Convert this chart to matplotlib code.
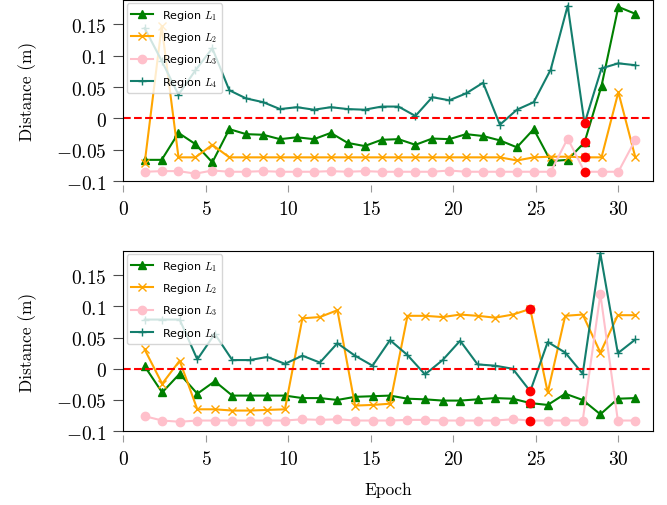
import matplotlib
matplotlib.use("Agg")
import matplotlib.pyplot as plt

plt.rcParams['mathtext.fontset'] = 'cm'

# epochs (x positions)
x_top = [1.29, 2.32, 3.34, 4.37, 5.39, 6.42, 7.44, 8.47, 9.49, 10.52,
         11.55, 12.57, 13.60, 14.62, 15.65, 16.67, 17.70, 18.72, 19.75, 20.77,
         21.80, 22.82, 23.85, 24.87, 25.90, 26.93, 27.95, 28.98, 30.00, 31.03]
x_bot = [1.29, 2.35, 3.41, 4.48, 5.54, 6.60, 7.66, 8.72, 9.79, 10.85,
         11.91, 12.97, 14.04, 15.10, 16.16, 17.22, 18.28, 19.35, 20.41, 21.47,
         22.53, 23.60, 24.66, 25.72, 26.78, 27.84, 28.91, 29.97, 31.03]

# top panel
l1_top = [-0.066, -0.066, -0.023, -0.041, -0.070, -0.017, -0.025, -0.026, -0.033, -0.030,
          -0.033, -0.023, -0.039, -0.044, -0.034, -0.033, -0.042, -0.032, -0.033, -0.025,
          -0.028, -0.035, -0.046, -0.017, -0.068, -0.066, -0.038, 0.052, 0.178, 0.167]
l2_top = [-0.071, 0.147, -0.062, -0.062, -0.042, -0.062, -0.062, -0.062, -0.062, -0.062,
          -0.062, -0.062, -0.062, -0.062, -0.062, -0.062, -0.062, -0.062, -0.062, -0.062,
          -0.062, -0.062, -0.067, -0.062, -0.061, -0.061, -0.062, -0.062, 0.042, -0.062]
l3_top = [-0.085, -0.084, -0.084, -0.088, -0.083, -0.085, -0.085, -0.084, -0.085, -0.085,
          -0.085, -0.084, -0.085, -0.084, -0.085, -0.085, -0.085, -0.085, -0.083, -0.085,
          -0.085, -0.085, -0.085, -0.085, -0.085, -0.032, -0.085, -0.085, -0.085, -0.034]
l4_top = [0.144, 0.092, 0.038, 0.077, 0.112, 0.045, 0.032, 0.026, 0.015, 0.018,
          0.014, 0.018, 0.015, 0.014, 0.019, 0.019, 0.004, 0.034, 0.029, 0.040,
          0.057, -0.010, 0.014, 0.026, 0.078, 0.180, -0.008, 0.080, 0.088, 0.085]
flag_top = 26

# bottom panel
l1_bot = [0.004, -0.038, -0.008, -0.040, -0.020, -0.043, -0.043, -0.043, -0.043, -0.047,
          -0.047, -0.050, -0.045, -0.044, -0.043, -0.048, -0.049, -0.051, -0.051, -0.049,
          -0.047, -0.048, -0.055, -0.058, -0.040, -0.050, -0.073, -0.048, -0.047]
l2_bot = [0.031, -0.024, 0.013, -0.065, -0.065, -0.067, -0.067, -0.066, -0.065, 0.081,
          0.083, 0.094, -0.059, -0.058, -0.056, 0.085, 0.085, 0.083, 0.087, 0.085,
          0.082, 0.087, 0.096, -0.038, 0.085, 0.087, 0.026, 0.086, 0.086]
l3_bot = [-0.076, -0.083, -0.085, -0.083, -0.083, -0.083, -0.083, -0.083, -0.083, -0.081,
          -0.082, -0.081, -0.083, -0.083, -0.083, -0.082, -0.082, -0.083, -0.083, -0.083,
          -0.083, -0.081, -0.083, -0.083, -0.083, -0.083, 0.120, -0.083, -0.083]
l4_bot = [0.079, 0.079, 0.079, 0.015, 0.056, 0.014, 0.014, 0.019, 0.008, 0.021,
          0.010, 0.041, 0.021, 0.005, 0.046, 0.022, -0.009, 0.014, 0.045, 0.007,
          0.005, 0.000, -0.036, 0.043, 0.026, -0.008, 0.185, 0.025, 0.047]
flag_bot = 22

labels = ['Region $L_1$', 'Region $L_2$', 'Region $L_3$', 'Region $L_4$']
colors = ['green', 'orange', 'pink', '#137e6d']
markers = ['^', 'x', 'o', '+']

yticks = [-0.1, -0.05, 0, 0.05, 0.1, 0.15]
ytick_labels = ['$-0.1$', '$-0.05$', '$0$', '$0.05$', '$0.1$', '$0.15$']
xticks = [0, 5, 10, 15, 20, 25, 30]
xtick_labels = ['$%d$' % t for t in xticks]


def panel(ax, x, series, flag, show_xlabel):
    for y, lab, c, m in zip(series, labels, colors, markers):
        ax.plot(x, y, color=c, marker=m, markersize=6, linewidth=1.5, label=lab)
    ax.axhline(0, color='red', linestyle='--', linewidth=1.5)
    for y in series:
        ax.plot(x[flag], y[flag], 'o', color='red', markersize=6, zorder=5)
    ax.set_xlim(0, 32.1)
    ax.set_ylim(-0.1, 0.189)
    ax.set_yticks(yticks, ytick_labels, fontsize=14)
    ax.tick_params(axis='y', direction='out', length=7, color='0.3', pad=5)
    ax.tick_params(axis='x', bottom=False, labelbottom=False)
    # x ticks sit a little below the frame
    sec = ax.secondary_xaxis(-0.022)
    sec.spines['bottom'].set_visible(False)
    sec.set_xticks(xticks, xtick_labels, fontsize=14)
    sec.tick_params(axis='x', direction='out', length=5, color='0.6', pad=5)
    ax.set_ylabel('Distance (m)', family='cmr10', fontsize=12.5, labelpad=14)
    if show_xlabel:
        sec.set_xlabel('Epoch', family='cmr10', fontsize=12.5, labelpad=10)
    ax.legend(loc='upper left', fontsize=8, borderaxespad=0.3, labelspacing=0.75,
              handlelength=2.0)


fig = plt.figure(figsize=(6.67, 5.06), dpi=100)
ax1 = fig.add_axes([0.185, 0.640, 0.794, 0.358])
ax2 = fig.add_axes([0.185, 0.146, 0.794, 0.356])

panel(ax1, x_top, [l1_top, l2_top, l3_top, l4_top], flag_top, False)
panel(ax2, x_bot, [l1_bot, l2_bot, l3_bot, l4_bot], flag_bot, True)

fig.savefig('out.png', dpi=100)
